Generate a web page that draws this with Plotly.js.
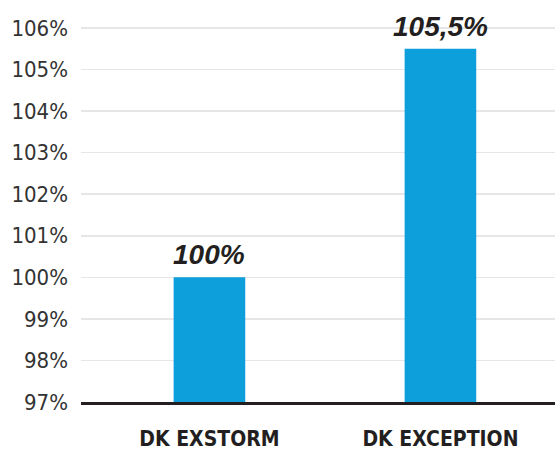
<!DOCTYPE html>
<html><head><meta charset="utf-8">
<script src="https://cdn.plot.ly/plotly-3.0.1.min.js"></script>
<style>html,body{margin:0;padding:0;background:#fff}#chart{width:555px;height:451px}</style>
</head><body><div id="chart"></div>
<script>
const categories = ["DK EXSTORM", "DK EXCEPTION"];
const values = [100, 105.5];
const valueLabels = ["100%", "105,5%"];
const yTickVals = [97, 98, 99, 100, 101, 102, 103, 104, 105, 106];
const yTickText = ["97%", "98%", "99%", "100%", "101%", "102%", "103%", "104%", "105%", "106%"];

const narrow = '"DejaVu Sans Condensed", "Liberation Sans Narrow", sans-serif';

const data = [{
  type: 'bar', x: categories, y: values, width: 0.31,
  marker: {color: '#0d9fdb'}, hoverinfo: 'none'
}];

const annotations = categories.map((c, i) => ({
  x: c, y: values[i], xref: 'x', yref: 'y', text: '<b><i>' + valueLabels[i] + '</i></b>',
  showarrow: false, yanchor: 'bottom', yshift: 5,
  font: {family: '"Liberation Sans", sans-serif', size: 28, color: '#231f20'}
}));

const layout = {
  width: 555, height: 451,
  margin: {l: 81, r: 0, t: 3, b: 49},
  paper_bgcolor: '#fff', plot_bgcolor: '#fff',
  showlegend: false,
  xaxis: {
    type: 'category', range: [-0.556, 1.496],
    showline: true, linecolor: '#231f20', linewidth: 3,
    ticks: '', showgrid: false, ticklabelstandoff: 16,
    tickfont: {family: narrow, size: 21, color: '#231f20', weight: 'bold'}
  },
  yaxis: {
    range: [97, 106.6], tickvals: yTickVals, ticktext: yTickText,
    showgrid: true, gridcolor: '#e6e6e6', gridwidth: 1.5,
    zeroline: false, showline: false, ticks: '', ticklabelstandoff: 12,
    tickfont: {family: narrow, size: 22, color: '#333333'}
  },
  annotations: annotations
};

Plotly.newPlot('chart', data, layout, {displayModeBar: false, staticPlot: true});
</script></body></html>
